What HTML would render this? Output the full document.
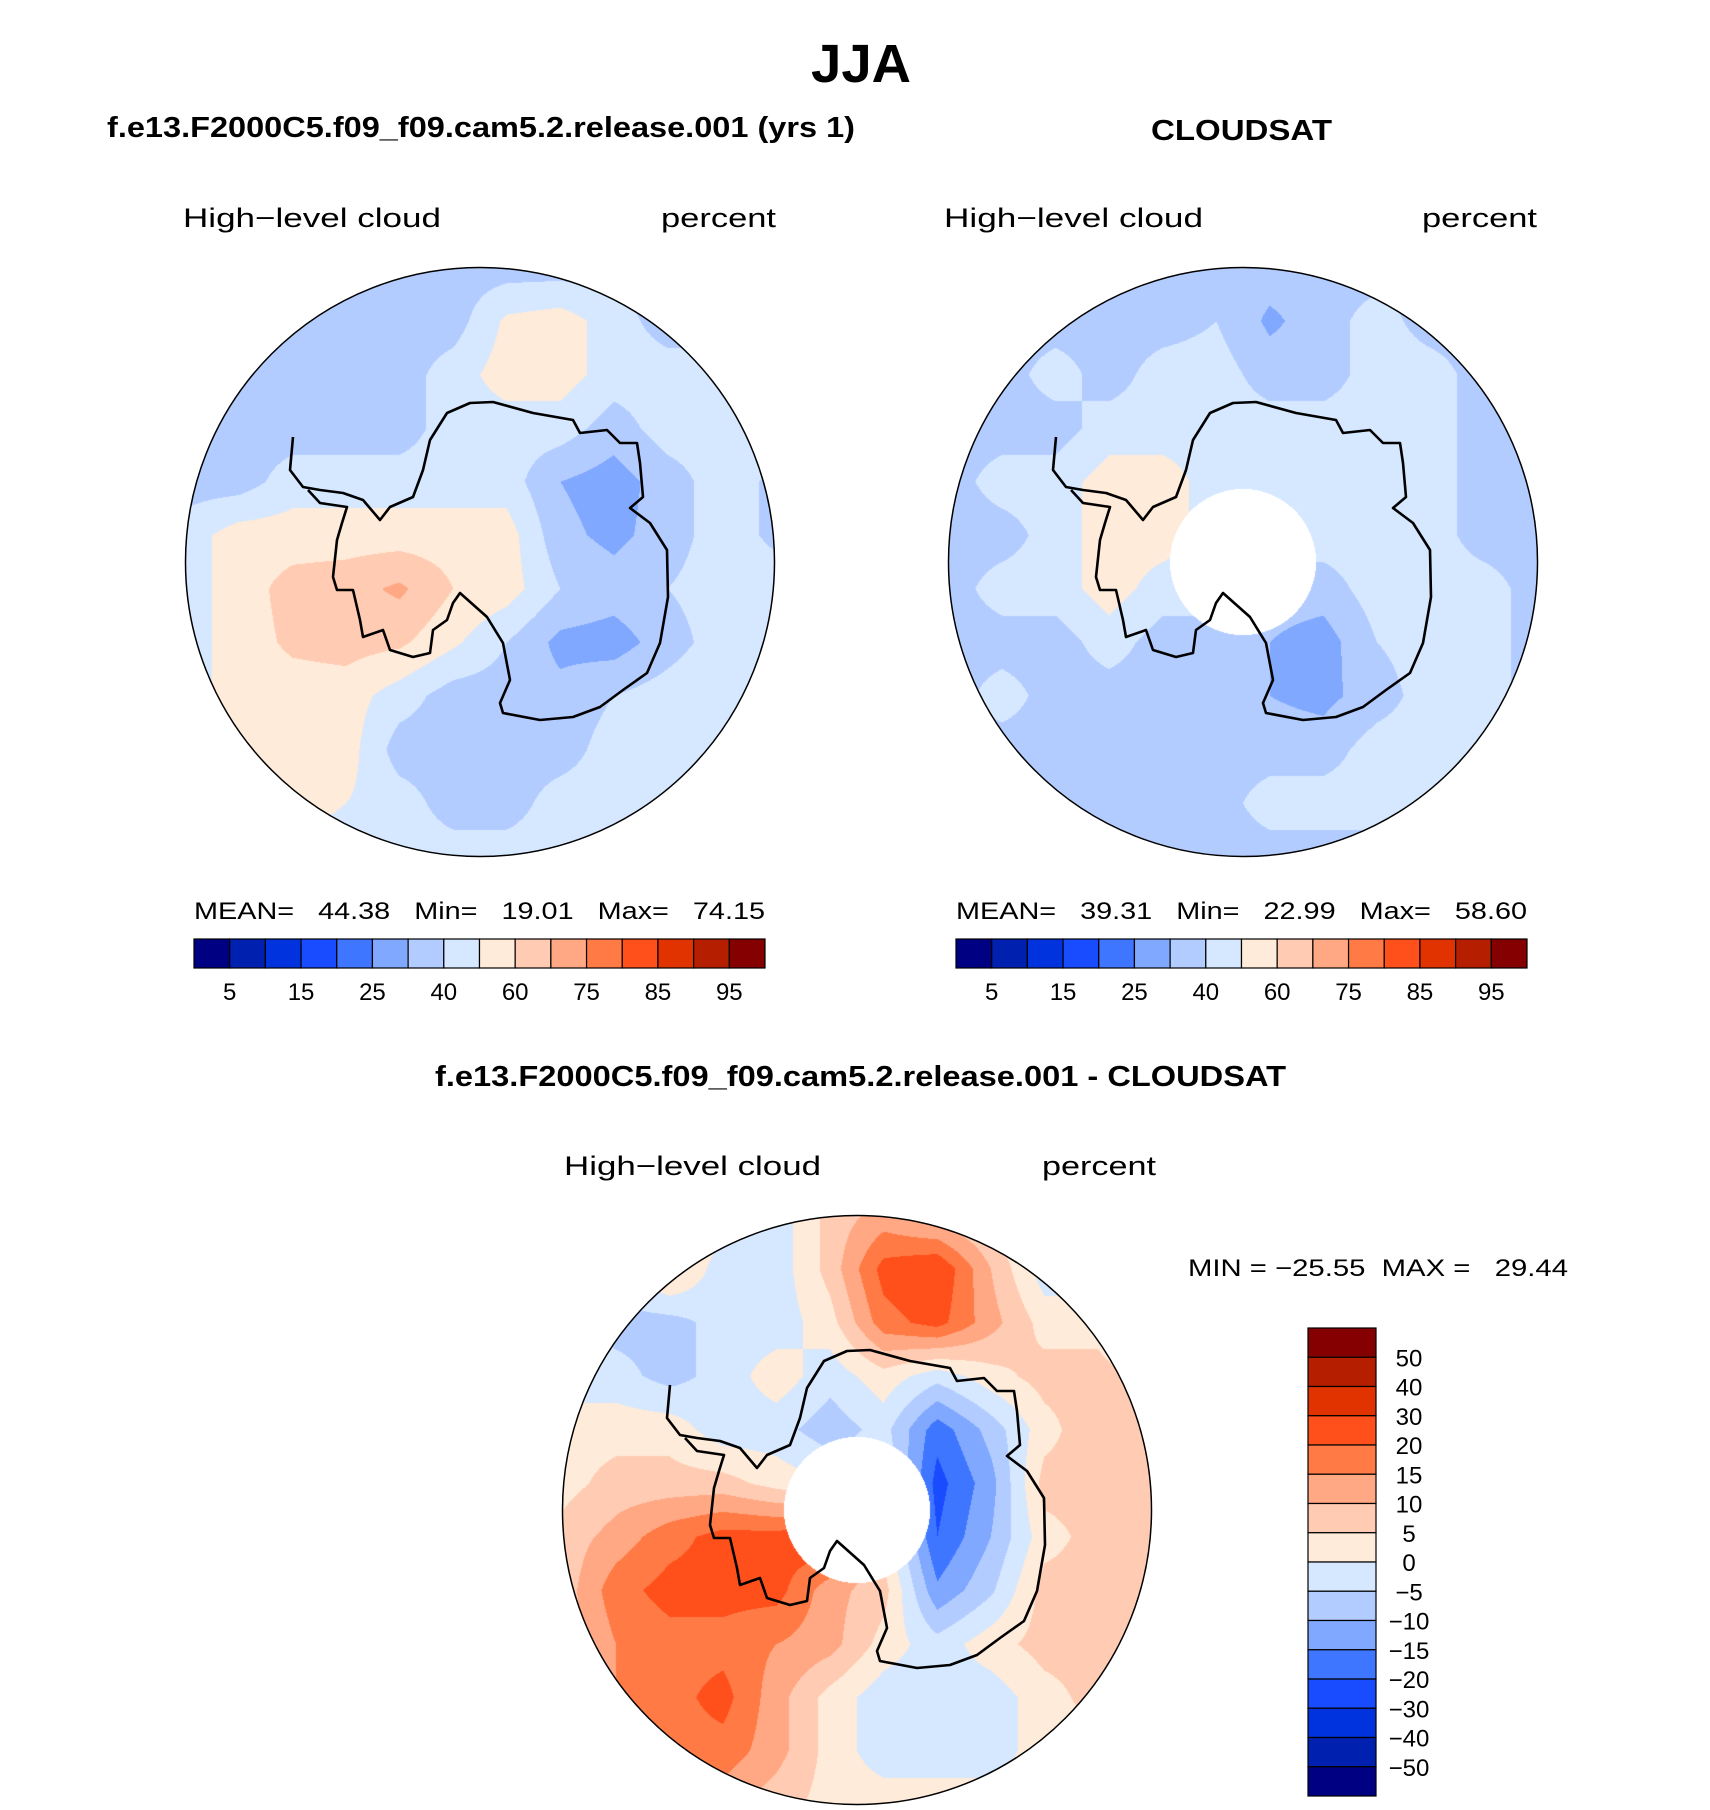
<!DOCTYPE html>
<html><head><meta charset="utf-8">
<style>
html,body{margin:0;padding:0;background:#fff;}
#wrap{position:relative;width:1710px;height:1810px;overflow:hidden;}
canvas{position:absolute;}
svg{position:absolute;left:0;top:0;}
.t{font-family:"Liberation Sans",sans-serif;fill:#000;}
.b{font-weight:bold;}
.l{font-size:27px;}
</style></head>
<body>
<div id="wrap">
<canvas id="c1" width="590" height="590" style="left:185px;top:267px"></canvas>
<canvas id="c2" width="590" height="590" style="left:948px;top:267px"></canvas>
<canvas id="c3" width="590" height="590" style="left:562px;top:1215px"></canvas>
<svg id="s" width="1710" height="1810" xmlns="http://www.w3.org/2000/svg">
<text class="t b" x="861" y="82" font-size="54" text-anchor="middle" textLength="100" lengthAdjust="spacingAndGlyphs">JJA</text>
<text class="t b" x="107" y="137" font-size="29" textLength="748" lengthAdjust="spacingAndGlyphs">f.e13.F2000C5.f09_f09.cam5.2.release.001 (yrs 1)</text>
<text class="t b" x="1151" y="140" font-size="29" textLength="181" lengthAdjust="spacingAndGlyphs">CLOUDSAT</text>
<text class="t l" x="183" y="227" textLength="258" lengthAdjust="spacingAndGlyphs">High−level cloud</text>
<text class="t l" x="661" y="227" textLength="115" lengthAdjust="spacingAndGlyphs">percent</text>
<text class="t l" x="944" y="227" textLength="259" lengthAdjust="spacingAndGlyphs">High−level cloud</text>
<text class="t l" x="1422" y="227" textLength="115" lengthAdjust="spacingAndGlyphs">percent</text>
<text class="t" x="194" y="919" font-size="24" textLength="571" lengthAdjust="spacingAndGlyphs" xml:space="preserve">MEAN=   44.38   Min=   19.01   Max=   74.15</text>
<text class="t" x="956" y="919" font-size="24" textLength="571" lengthAdjust="spacingAndGlyphs" xml:space="preserve">MEAN=   39.31   Min=   22.99   Max=   58.60</text>
<text class="t b" x="435" y="1086" font-size="29" textLength="851" lengthAdjust="spacingAndGlyphs">f.e13.F2000C5.f09_f09.cam5.2.release.001 - CLOUDSAT</text>
<text class="t l" x="564" y="1175" textLength="257" lengthAdjust="spacingAndGlyphs">High−level cloud</text>
<text class="t l" x="1042" y="1175" textLength="114" lengthAdjust="spacingAndGlyphs">percent</text>
<text class="t" x="1188" y="1276" font-size="24" textLength="380" lengthAdjust="spacingAndGlyphs" xml:space="preserve">MIN = −25.55  MAX =   29.44</text>
<g id="g"></g>
</svg>
</div>
<script>
const colors=['#000083','#0021b0','#0033dd','#1a4cff','#3f76ff','#80a8ff','#b3ccff','#d6e8ff','#ffebd9','#ffcbb3','#ffa883','#ff7a45','#ff4f1a','#e03300','#b51f00','#850000'];
const levelsAbs=[5,10,15,20,25,30,40,50,60,70,75,80,85,90,95];
const levelsDiff=[-50,-40,-30,-20,-15,-10,-5,0,5,10,15,20,30,40,50];
const absTickLabels=['5','15','25','40','60','75','85','95'];
const diffTickLabels=['50','40','30','20','15','10','5','0','−5','−10','−15','−20','−30','−40','−50'];
const modelGrid=[
[35,35,35,35,35,35,35,35,35,35,35,35],
[35,35,35,35,35,35,52,55,45,35,35,35],
[35,35,35,35,35,45,55,55,45,45,45,35],
[35,35,35,35,35,45,45,45,35,45,45,45],
[35,35,45,45,45,45,45,30,25,35,45,38],
[45,55,55,55,55,55,55,33,27,35,45,38],
[45,55,64,66,72,60,55,40,35,40,45,45],
[45,55,62,64,62,52,40,27,25,35,45,45],
[45,55,55,55,45,35,35,33,40,45,50,45],
[45,55,55,55,35,35,35,35,45,45,45,45],
[45,45,55,50,45,35,35,45,45,45,45,45],
[45,45,45,45,45,45,45,45,45,45,45,45]];
const obsGrid=[
[35,35,35,35,35,35,35,35,35,35,35,35],
[35,35,35,35,35,40,28,35,45,35,35,35],
[35,35,45,35,45,45,35,35,45,45,35,35],
[35,35,35,45,45,45,45,45,45,45,35,35],
[35,45,45,55,55,45,45,45,45,45,35,35],
[35,35,45,55,55,45,45,45,45,45,35,35],
[35,45,45,55,45,45,35,35,45,45,45,35],
[35,35,35,45,35,35,30,25,40,45,45,35],
[35,45,35,35,35,35,30,27,35,45,45,35],
[35,35,35,35,35,35,35,35,45,45,45,45],
[35,35,35,35,35,35,45,45,45,45,45,45],
[35,35,35,35,35,35,35,35,35,35,35,35]];
const diffGrid=[
[3,3,3,3,-3,7,12,7,3,-3,-7,-3],
[3,-3,7,-3,-3,7,22,25,10,-3,-3,-3],
[-3,-7,-7,-3,-3,3,18,22,12,3,3,-3],
[-3,-3,-7,-3,3,-3,3,-3,3,7,7,3],
[3,3,3,-3,-3,-8,-3,-18,-8,3,9,7],
[3,7,7,7,3,0,0,-22,-12,7,7,7],
[7,12,18,22,22,25,3,-20,-10,3,7,7],
[7,18,22,22,22,12,7,-14,-6,7,7,7],
[7,15,18,18,15,12,3,-3,3,7,7,7],
[7,15,18,22,12,3,-3,-3,-3,3,7,7],
[7,15,18,18,12,3,-3,-3,-3,3,3,3],
[7,7,12,12,7,3,3,3,3,3,3,3]];

function hex(c){return [parseInt(c.substr(1,2),16),parseInt(c.substr(3,2),16),parseInt(c.substr(5,2),16)];}
const rgb=colors.map(hex);
function drawMap(id,grid,levels,hole){
  const cv=document.getElementById(id),ctx=cv.getContext('2d');
  const N=590,R=294.5,c=N/2,img=ctx.createImageData(N,N),n=grid.length-1;
  for(let y=0;y<N;y++)for(let x=0;x<N;x++){
    const dx=x+0.5-c,dy=y+0.5-c,d=Math.sqrt(dx*dx+dy*dy);
    if(d>R||(hole&&d<73))continue;
    const gx=x/(N-1)*n,gy=y/(N-1)*n,i=Math.min(n-1,Math.floor(gx)),j=Math.min(n-1,Math.floor(gy)),fx=gx-i,fy=gy-j;
    const v=grid[j][i]*(1-fx)*(1-fy)+grid[j][i+1]*fx*(1-fy)+grid[j+1][i]*(1-fx)*fy+grid[j+1][i+1]*fx*fy;
    let k=0;while(k<levels.length&&v>=levels[k])k++;
    const p=(y*N+x)*4,col=rgb[k];img.data[p]=col[0];img.data[p+1]=col[1];img.data[p+2]=col[2];img.data[p+3]=255;
  }
  ctx.putImageData(img,0,0);
}
drawMap('c1',modelGrid,levelsAbs,false);
drawMap('c2',obsGrid,levelsAbs,true);
drawMap('c3',diffGrid,levelsDiff,true);

const NS='http://www.w3.org/2000/svg',g=document.getElementById('g');
function mk(t,a){const e=document.createElementNS(NS,t);for(const k in a)e.setAttribute(k,a[k]);g.appendChild(e);return e;}
const coast=[[293,437],[290,470],[303,487],[320,490],[343,493],[363,500],[380,520],[390,507],[413,497],[423,470],[430,440],[447,413],[470,403],[493,402],[533,413],[573,420],[580,433],[607,430],[620,443],[637,443],[640,463],[643,497],[630,508],[650,523],[667,550],[668,597],[660,643],[647,673],[623,690],[600,707],[573,717],[540,720],[503,713],[500,703],[510,680],[503,643],[487,617],[460,593],[453,603],[447,620],[433,630],[430,653],[413,657],[390,650],[383,630],[363,637],[360,620],[353,590],[337,590],[333,577],[337,540],[342,523],[347,507],[320,503],[308,490]];
[[480,562,'model'],[1243,562,'cloudsat'],[857,1510,'difference']].forEach(([cx,cy,nm])=>{
  const d=coast.map((p,i)=>(i?'L':'M')+(p[0]-480+cx)+' '+(p[1]-562+cy)).join(' ');
  const pth=mk('path',{d:d,fill:'none',stroke:'#000','stroke-width':2.6,'stroke-linejoin':'round'});
  
  
  const ci=mk('circle',{cx:cx,cy:cy,r:294.5,fill:'none',stroke:'#000','stroke-width':1.5});
  
  
});
[[194,'left'],[956,'right']].forEach(([x0,nm])=>{
  const w=(765-194)/16;
  colors.forEach((c,i)=>{
    const r=mk('rect',{x:x0+i*w,y:939,width:w,height:29,fill:c,stroke:'#000','stroke-width':1.2});
    
    
  });
  absTickLabels.forEach((lab,i)=>{
    const t=mk('text',{x:x0+w*(2*i+1),y:1000,'text-anchor':'middle','font-size':24,class:'t'});
    t.textContent=lab;
    
    
  });
});
const vTop=1328,vBot=1796,vh=(vBot-vTop)/16;
colors.slice().reverse().forEach((c,i)=>{
  const r=mk('rect',{x:1308,y:vTop+i*vh,width:68,height:vh,fill:c,stroke:'#000','stroke-width':1.2});
  
  
});
diffTickLabels.forEach((lab,i)=>{
  const t=mk('text',{x:1409,y:vTop+vh*(i+1)+9,'text-anchor':'middle','font-size':24,class:'t'});
  t.textContent=lab;
  
  
});
</script>
</body></html>
